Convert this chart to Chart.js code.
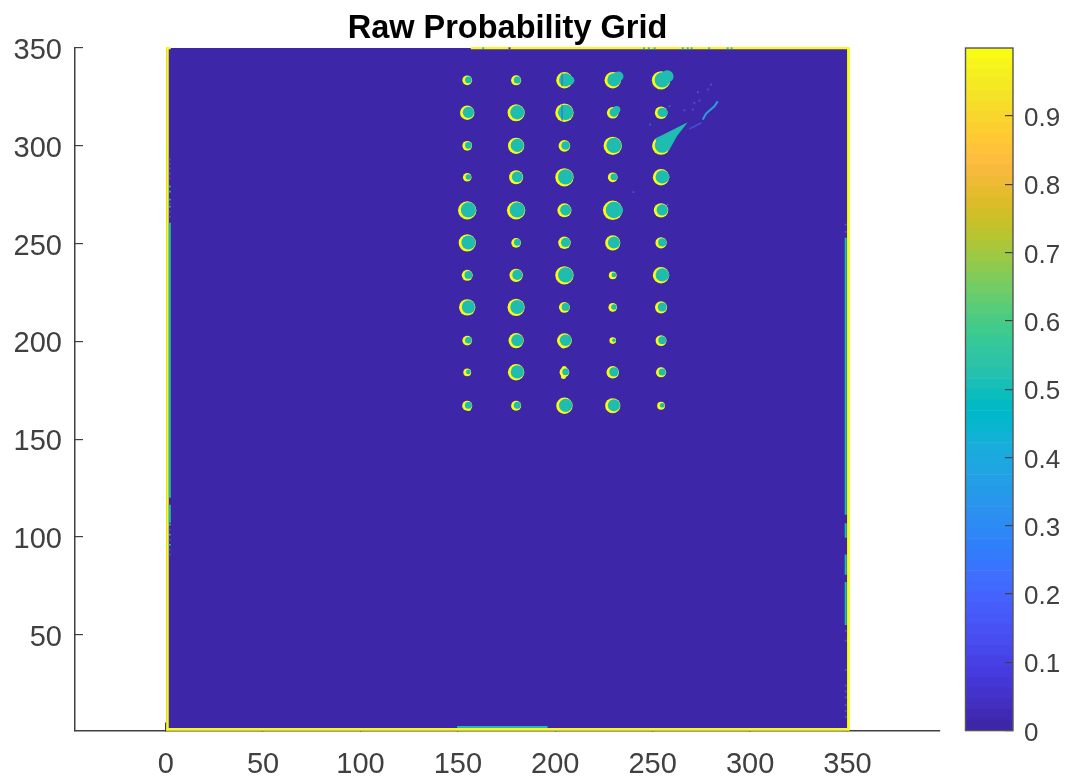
<!DOCTYPE html>
<html lang="en">
<head>
  <meta charset="UTF-8" />
  <title>Raw Probability Grid</title>
  <script src="https://cdn.jsdelivr.net/npm/chart.js"></script>
  <style>
    body { margin: 0; background: #fff; }
    canvas { position: absolute; top: 0; }
    #gridChart { left: 0; }
    #barChart { left: 960px; }
  </style>
</head>
<body>
  <canvas id="gridChart" width="1068" height="782"></canvas>
  <canvas id="barChart" width="108" height="782"></canvas>
  <script>
    const xTicks = [0, 50, 100, 150, 200, 250, 300, 350];
    const yTicks = [50, 100, 150, 200, 250, 300, 350];
    const barTicks = [0, 0.1, 0.2, 0.3, 0.4, 0.5, 0.6, 0.7, 0.8, 0.9];

    // centres of the hot spots, grid units
    const spotCols = [154.8, 179.9, 204.7, 229.5, 254.3];
    const spotRows = [333.5, 316.9, 300, 283.9, 267, 250.4, 233.8, 217.4, 200.4, 184.2, 167.1];
    // radius of each spot, grid units, one row per spotRows entry
    const spotRadius = [
      [2.5, 2.6, 4.2, 4.2, 4.7],
      [3.7, 4.4, 4.7, 3.0, 3.2],
      [2.5, 4.2, 3.0, 4.7, 4.6],
      [2.2, 3.6, 4.7, 2.5, 4.2],
      [4.7, 4.7, 3.6, 5.0, 3.7],
      [4.4, 2.5, 3.2, 3.9, 2.9],
      [2.8, 3.4, 4.7, 2.0, 4.2],
      [4.2, 4.4, 2.8, 2.2, 3.1],
      [2.5, 3.9, 3.8, 1.7, 2.8],
      [2.0, 4.2, 2.5, 3.2, 2.6],
      [2.6, 2.6, 4.2, 3.9, 2.0]
    ];
    // bits that stick out of the round spots
    const rimBumpX = [204.2, 204.2, 204.6, 155.6];
    const rimBumpY = [198, 182.1, 186.1, 165.6];
    const rimBumpR = [1.6, 1.3, 1.3, 1.2];
    const nubX = [257.5, 232.5, 207.5, 232, 255.8, 231.5, 256.5, 256.5];
    const nubY = [335.5, 335.5, 333.5, 267, 317, 318.5, 284.2, 234];
    const nubR = [3.2, 2.5, 2.3, 2.8, 2.0, 1.9, 2.2, 2.0];
    const seamX = [203.5, 203.5];
    const seamY = [[337, 330.5], [321, 313]];

    // streak coming off the top right spot
    const cometX = [251.4, 268, 262.5, 258.6, 253];
    const cometY = [303.8, 312, 305, 298, 297];
    const streakX = [275.7, 277.4, 281.7, 283.4];
    const streakY = [313.4, 316.5, 320.2, 322.8];
    const faintLineX = [268.9, 274.9];
    const faintLineY = [308.7, 311.7];
    const faintX = [280, 273.2, 278.3, 274, 271.4, 270.6, 266.3, 258.6, 248.7, 257.7, 240.1];
    const faintY = [331.3, 327.4, 328.8, 323.1, 322, 318.5, 318.2, 320.2, 310.9, 270, 276.3];

    // edges of the grid
    const fieldX = [0.2, 350.8, 350.8, 0.2];
    const fieldY = [350.4, 350.4, 0.5, 0.5];
    const frameLeftX = [0.9, 0.9];
    const frameLeftY = [350.4, 1];
    const frameRightX = [350.5, 350.5];
    const frameRightY = [350.4, 1];
    const frameBottomX = [0.4, 350.8];
    const frameBottomY = [1.6, 1.6];
    const frameTopX = [156.6, 350.8];
    const frameTopY = [349.9, 349.9];
    const frameCornerX = [0.2, 2.6];
    const frameCornerY = [349.9, 349.9];
    const bottomBandX = [149.6, 196];
    const bottomBandY = [2.9, 2.9];
    const leftBands = [[260.7, 120], [116.5, 107.3]];
    const rightBands = [[253, 111.4], [107, 99.6], [91, 80.7], [77, 55]];
    const leftSpecksY = [279.2, 276.6, 272.5, 268.9, 106.3, 101.2, 96];
    const leftSpecksFaintY = [293, 290.9, 288.4, 285.8, 283.3, 270.4, 266.3, 263.8, 103.7, 98.6, 93.5, 91];
    const rightSpecksFaintY = [259.7, 256, 52, 47, 32, 24, 21, 18, 14, 11, 8];
    const topSpecksX = [163, 245.5, 248, 251, 265.5, 268, 270, 279, 288.5, 290.5];
    const topGapX = [176.5];

    const parula = [
      "#3e26a8", "#4029b4", "#422ebf", "#4332cb", "#4537d5", "#463bde", "#4741e5", "#4747eb",
      "#484df0", "#4852f4", "#4758f8", "#465dfb", "#4563fc", "#4269fe", "#3e6fff", "#3875fe",
      "#327cfc", "#2f81fa", "#2d87f7", "#2d8cf3", "#2b91ef", "#2796eb", "#259be7", "#23a0e5",
      "#20a5e3", "#1ca9df", "#18addb", "#12b1d6", "#08b5d0", "#01b8ca", "#02bac3", "#0bbdbc",
      "#18bfb6", "#24c1ae", "#2cc3a7", "#31c69f", "#37c897", "#3fca8e", "#4acb84", "#57cc7a",
      "#64cd6f", "#71cd64", "#81cc59", "#8fca4e", "#9dc943", "#abc739", "#b9c431", "#c5c22a",
      "#d1bf27", "#dcbd29", "#e6bb2d", "#efba36", "#f8ba3d", "#febd3c", "#fec338", "#fec933",
      "#fccf30", "#f9d62d", "#f7dc2a", "#f5e327", "#f5e924", "#f6ef20", "#f7f51b", "#f9fb15"
    ];

    const blue = "#3e26a8";
    const teal = "#1fbdb0";
    const yellow = "#f9fb15";
    const faint = "#4a50e6";
    const textColor = "#404040";
    const fontFamily = "'Liberation Sans', Arial, sans-serif";

    function zip(xs, ys) {
      return xs.map((x, i) => ({ x: x, y: ys[i] }));
    }

    function polyline(xs, ys, color, width) {
      return { data: zip(xs, ys), showLine: true, borderColor: color, borderWidth: width, pointRadius: 0, borderCapStyle: "butt", clip: false };
    }

    function shape(xs, ys, color) {
      return { data: zip(xs, ys), showLine: true, fill: "shape", backgroundColor: color, borderColor: color, borderWidth: 0, pointRadius: 0, clip: false };
    }

    function specks(xs, ys, color) {
      return { data: zip(xs, ys), pointStyle: "rect", pointRadius: 1.3, pointBorderWidth: 0, pointBackgroundColor: color, clip: false };
    }

    // radius is given in grid units so it follows the x scale
    function discs(points, color) {
      return {
        data: points,
        pointStyle: "circle",
        pointBorderWidth: 0,
        pointBackgroundColor: color,
        pointRadius: ctx => {
          const xs = ctx.chart.scales.x;
          return ctx.raw.r * (xs.getPixelForValue(1) - xs.getPixelForValue(0));
        }
      };
    }

    const spots = [];
    spotRows.forEach((y, row) => {
      spotCols.forEach((x, col) => {
        spots.push({ x: x, y: y, r: spotRadius[row][col] });
      });
    });
    // the flat middle of each spot sits up and to the right of its bright rim
    const spotMiddles = spots.map(s => ({ x: s.x + 0.6, y: s.y + 0.2, r: s.r - 0.8 }));
    const rimBumps = rimBumpX.map((x, i) => ({ x: x, y: rimBumpY[i], r: rimBumpR[i] }));
    const nubs = nubX.map((x, i) => ({ x: x, y: nubY[i], r: nubR[i] }));

    // listed bottom to top
    const layers = [
      shape(fieldX, fieldY, blue),
      polyline(frameLeftX, frameLeftY, yellow, 2.6),
      polyline(frameRightX, frameRightY, yellow, 2.8),
      polyline(frameBottomX, frameBottomY, yellow, 2.8),
      polyline(frameTopX, frameTopY, yellow, 2.2),
      polyline(frameCornerX, frameCornerY, yellow, 2.2),
      polyline(bottomBandX, bottomBandY, teal, 2),
      specks(topSpecksX, topSpecksX.map(() => 349.9), teal),
      specks(topGapX, [349.9], blue),
      ...leftBands.map(b => polyline([2.1, 2.1], b, teal, 2)),
      ...rightBands.map(b => polyline([349.1, 349.1], b, teal, 2)),
      specks(leftSpecksY.map(() => 2.1), leftSpecksY, teal),
      specks(leftSpecksFaintY.map(() => 2.1), leftSpecksFaintY, faint),
      specks(rightSpecksFaintY.map(() => 349.1), rightSpecksFaintY, faint),
      polyline(faintLineX, faintLineY, faint, 1.5),
      polyline(streakX, streakY, "#2a9fdc", 2),
      specks(faintX, faintY, faint),
      discs(rimBumps, yellow),
      discs(spots, yellow),
      shape(cometX, cometY, teal),
      discs(nubs, teal),
      discs(spotMiddles, teal),
      ...seamX.map((x, i) => polyline([x, x], seamY[i], "#2f7fd8", 1.4))
    ];
    layers.forEach((l, i) => { l.order = layers.length - i; });

    new Chart(document.getElementById("gridChart"), {
      type: "scatter",
      data: { datasets: layers },
      options: {
        responsive: false,
        animation: false,
        layout: { padding: { left: 0, right: 128, top: 0, bottom: 0 } },
        plugins: {
          legend: { display: false },
          tooltip: { enabled: false },
          title: {
            display: true,
            text: "Raw Probability Grid",
            color: "#000",
            fullSize: false,
            font: { family: fontFamily, size: 32.5, weight: "bold", lineHeight: 1.17 },
            padding: { top: 10, bottom: 0 }
          }
        },
        scales: {
          x: {
            type: "linear",
            min: -46.56,
            max: 397.5,
            afterBuildTicks: s => { s.ticks = xTicks.map(v => ({ value: v })); },
            afterFit: s => { s.height = 51.4; },
            grid: { drawOnChartArea: false, tickLength: -8, color: textColor, lineWidth: 1.2 },
            border: { color: textColor, width: 1.5 },
            ticks: { color: textColor, font: { family: fontFamily, size: 29 }, padding: 25, maxRotation: 0, autoSkip: false }
          },
          y: {
            type: "linear",
            min: 1,
            max: 350,
            afterBuildTicks: s => { s.ticks = yTicks.map(v => ({ value: v })); },
            afterFit: s => { s.width = 75; },
            grid: { drawOnChartArea: false, tickLength: -8, color: textColor, lineWidth: 1.2 },
            border: { color: textColor, width: 1.5 },
            ticks: { color: textColor, font: { family: fontFamily, size: 29 }, padding: 21, labelOffset: 3, autoSkip: false }
          }
        }
      }
    });

    // colour bar, one floating bar per step of the map
    const chartAreaBorder = {
      id: "chartAreaBorder",
      afterDraw(chart) {
        const a = chart.chartArea;
        const ctx = chart.ctx;
        ctx.save();
        ctx.strokeStyle = "#555";
        ctx.lineWidth = 1.4;
        ctx.strokeRect(a.left, a.top, a.right - a.left, a.bottom - a.top);
        ctx.restore();
      }
    };

    new Chart(document.getElementById("barChart"), {
      type: "bar",
      data: {
        labels: [""],
        datasets: parula.map((c, i) => ({
          data: [[i / parula.length, (i + 1) / parula.length]],
          backgroundColor: c,
          borderWidth: 0,
          barPercentage: 1,
          categoryPercentage: 1,
          grouped: false
        }))
      },
      plugins: [chartAreaBorder],
      options: {
        responsive: false,
        animation: false,
        layout: { padding: { left: 5.5, right: 0, top: 48, bottom: 51.4 } },
        plugins: { legend: { display: false }, tooltip: { enabled: false } },
        scales: {
          x: { display: false },
          y: {
            position: "right",
            min: 0,
            max: 0.9995,
            afterBuildTicks: s => { s.ticks = barTicks.map(v => ({ value: v })); },
            afterFit: s => { s.width = 55; },
            grid: { drawOnChartArea: false, tickLength: -8, color: textColor, lineWidth: 1.2, z: 1 },
            border: { display: false },
            ticks: { color: textColor, font: { family: fontFamily, size: 26 }, padding: 19, labelOffset: 3, autoSkip: false, callback: v => String(v) }
          }
        }
      }
    });
  </script>
</body>
</html>
